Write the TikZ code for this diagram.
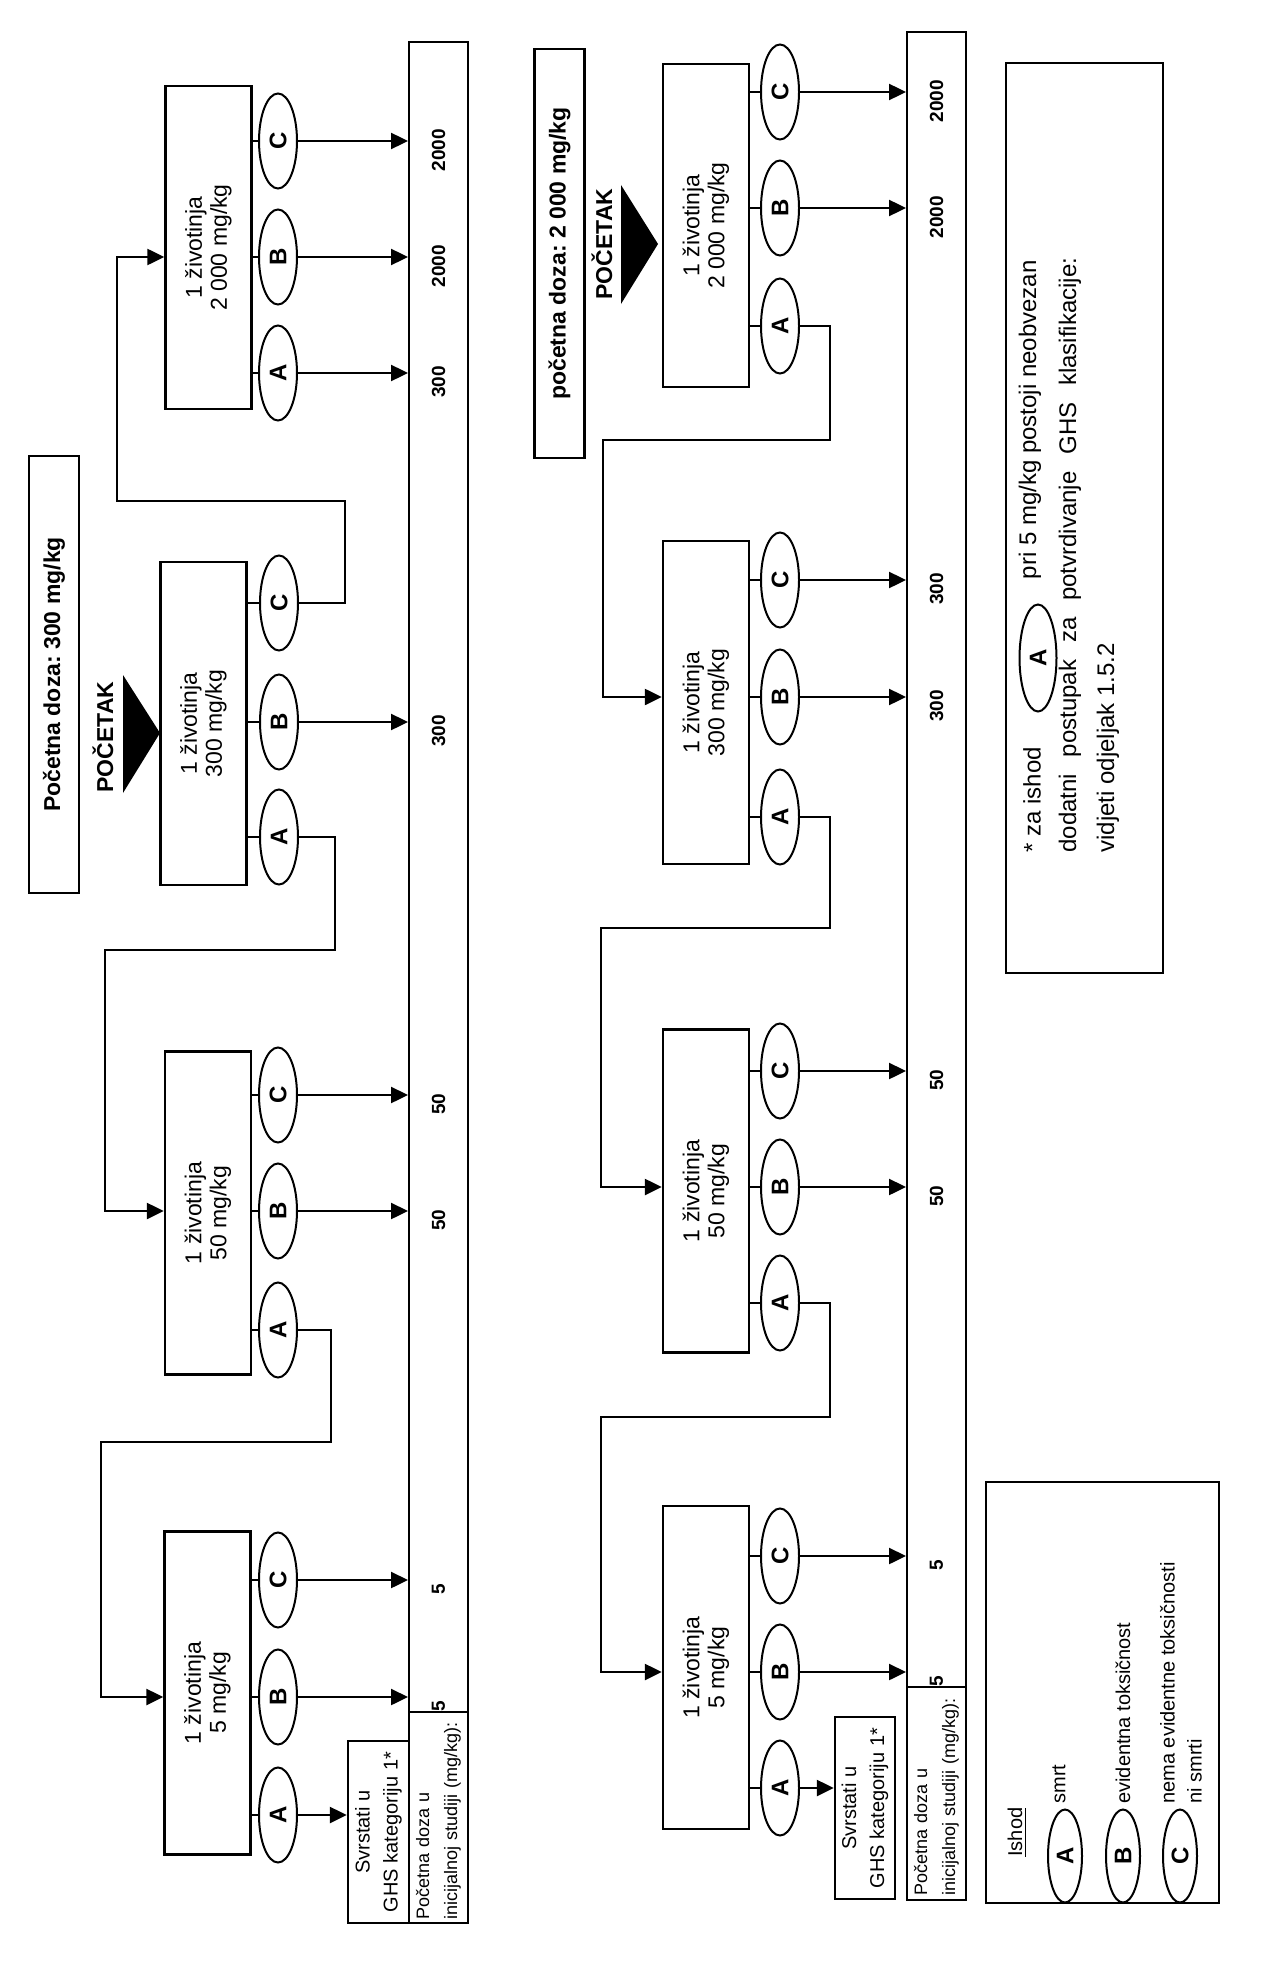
\documentclass[tikz,border=0pt]{standalone}
\usepackage{fontspec}
\setmainfont{Liberation Sans}
\usetikzlibrary{arrows.meta, shapes.geometric}

\begin{document}
\begin{tikzpicture}[x=0.5pt, y=-0.5pt,
    animal/.style={draw, line width=1.2pt, rotate=90, minimum width=161.5pt, minimum height=43pt,
      align=center, font=\fontsize{11.5}{12.5}\selectfont},
    outcome/.style={draw, ellipse, line width=1pt, rotate=90, minimum width=47.5pt, minimum height=19pt,
      inner sep=0pt, font=\fontsize{12}{12}\selectfont\bfseries},
    link/.style={line width=1.2pt},
    arr/.style={link, -{Triangle[length=8.5pt, width=8pt]}},
    dose/.style={rotate=90, inner sep=0pt, xshift=-4.5pt, font=\fontsize{9.5}{9.5}\selectfont\bfseries},
    title/.style={draw, line width=1.2pt, rotate=90, minimum height=25pt, font=\fontsize{11.5}{12}\selectfont\bfseries},
    catbox/.style={draw, line width=1.2pt, rotate=90, align=center, minimum width=91pt, font=\fontsize{10}{14}\selectfont},
    bar/.style={draw, line width=1pt, minimum width=29.5pt, inner sep=0pt},
    studybox/.style={draw, line width=1pt, rotate=90, minimum width=105.5pt, minimum height=29.5pt,
      inner xsep=1.5pt, inner ysep=0pt, text width=102pt, align=left, font=\fontsize{9}{14}\selectfont},
    notetext/.style={rotate=90, inner sep=0pt, font=\fontsize{12}{12}\selectfont},
    legtext/.style={rotate=90, inner sep=0pt, align=left, font=\fontsize{10}{13.5}\selectfont},
  ]
  \useasboundingbox (0,0) rectangle (1274,1969);

  % titles and start marks
  \node[title, minimum width=218.5pt] (titL) at (54,674.5) {Početna\ doza:\ 300\ mg/kg};
  \node[title, minimum width=204.5pt] (titR) at (559.5,253.5) {početna\ doza:\ 2\ 000\ mg/kg};
  \node[rotate=90, font=\fontsize{11.5}{12}\selectfont\bfseries] (startL) at (103,737) {POČETAK};
  \node[rotate=90, font=\fontsize{11.5}{12}\selectfont\bfseries] (startR) at (602,244) {POČETAK};
  \fill (123,675) -- (160,733) -- (123,793) -- cycle;
  \fill (621,185) -- (658,244) -- (621,304) -- cycle;

  % dose bars
  \node[bar, minimum height=835pt] (barL) at (438.5,877) {};
  \node[bar, minimum height=827.5pt] (barR) at (936.5,859.5) {};
  \node[studybox] (studyL) at (438.5,1817.5) {Početna doza u\\inicijalnoj studiji (mg/kg):};
  \node[studybox, minimum width=106.5pt] (studyR) at (936.5,1793.5) {Početna doza u\\inicijalnoj studiji (mg/kg):};
  \node[catbox, minimum height=30.5pt] (svL) at (378.5,1832) {Svrstati u\\GHS kategoriju 1*};
  \node[catbox, minimum height=30pt] (svR) at (865,1808) {Svrstati u\\GHS kategoriju 1*};

  % one animal per step, outcomes A, B, C
  \foreach \nm/\bx/\by/\ex/\ya/\yb/\yc/\dz in {
      L2000/208.5/247.5/278/373/257/141/2 000,
      L300/203.5/723.5/279/837/722/603/300,
      L50/208/1213/278/1330/1211/1095/50,
      L5/207.5/1693/278/1815/1697/1580/5,
      R2000/706/225.5/780/326/208/92/2 000,
      R300/706/702.5/780/817/697/580/300,
      R50/706/1191/780/1303/1187/1071/50,
      R5/706/1667.5/780/1788/1672/1556/5}
  {
    \node[animal] (\nm) at (\bx,\by) {1 životinja\\\dz\ mg/kg};
    \foreach \o/\oy in {A/\ya, B/\yb, C/\yc} {
      \node[outcome] (\nm\o) at (\ex,\oy) {\o};
      \draw[link] (\nm.south |- \nm\o) -- (\nm\o);
    }
  }

  % outcomes to the dose bars
  \foreach \e/\v in {L2000A/300, L2000B/2000, L2000C/2000, L300B/300, L50B/50, L50C/50, L5B/5, L5C/5} {
    \draw[arr] (\e) -- (\e -| barL.west);
    \node[dose] (n\e) at (\e -| barL) {\v};
  }
  \foreach \e/\v in {R2000B/2000, R2000C/2000, R300B/300, R300C/300, R50B/50, R50C/50, R5B/5, R5C/5} {
    \draw[arr] (\e) -- (\e -| barR.west);
    \node[dose] (n\e) at (\e -| barR) {\v};
  }
  \draw[arr] (L5A) -- (L5A -| svL.north);
  \draw[arr] (R5A) -- (R5A -| svR.north);

  % next animal
  \draw[arr] (L300C) -| (345,501) -| (117,257) -- (L2000.north |- L2000B);
  \draw[arr] (L300A) -| (335,950) -| (105,1211) -- (L50.north |- L50B);
  \draw[arr] (L50A) -| (331,1442) -| (101,1697) -- (L5.north |- L5B);
  \draw[arr] (R2000A) -| (830,440) -| (603,697) -- (R300.north |- R300B);
  \draw[arr] (R300A) -| (830,928) -| (601,1187) -- (R50.north |- R50B);
  \draw[arr] (R50A) -| (830,1417) -| (601,1672) -- (R5.north |- R5B);

  % footnote
  \node[draw, line width=1.2pt, minimum width=78.5pt, minimum height=455pt] (note) at (1084.5,518) {};
  \node[notetext, anchor=west] (note1) at (1032,853) {* za ishod};
  \node[outcome, minimum width=53.5pt, minimum height=18.5pt] (noteA) at (1038,658) {A};
  \node[notetext, anchor=east] (note2) at (1030,260) {pri 5 mg/kg postoji neobvezan};
  \node[notetext, anchor=west] (note3) at (1070,853)
    {\makebox[297.5pt][s]{dodatni\ postupak\ za\ potvrdivanje\ GHS\ klasifikacije:}};
  \node[notetext, anchor=west] (note4) at (1108,853) {vidjeti odjeljak 1.5.2};

  % legend
  \node[draw, line width=1.2pt, minimum width=116.5pt, minimum height=210.5pt] (legend) at (1102.5,1692.5) {};
  \node[legtext, anchor=west] (ishod) at (1017,1857) {\underline{Ishod}};
  \foreach \o/\ox in {A/1065, B/1123, C/1180}
    \node[outcome, minimum width=46.5pt, minimum height=17pt] (key\o) at (\ox,1856) {\o};
  \node[legtext, anchor=west] (keytA) at (1059,1804) {smrt};
  \node[legtext, anchor=west] (keytB) at (1123,1804) {evidentna toksičnost};
  \node[legtext, anchor=west] (keytC) at (1181,1804) {nema evidentne toksičnosti\\ni smrti};
\end{tikzpicture}
\end{document}
